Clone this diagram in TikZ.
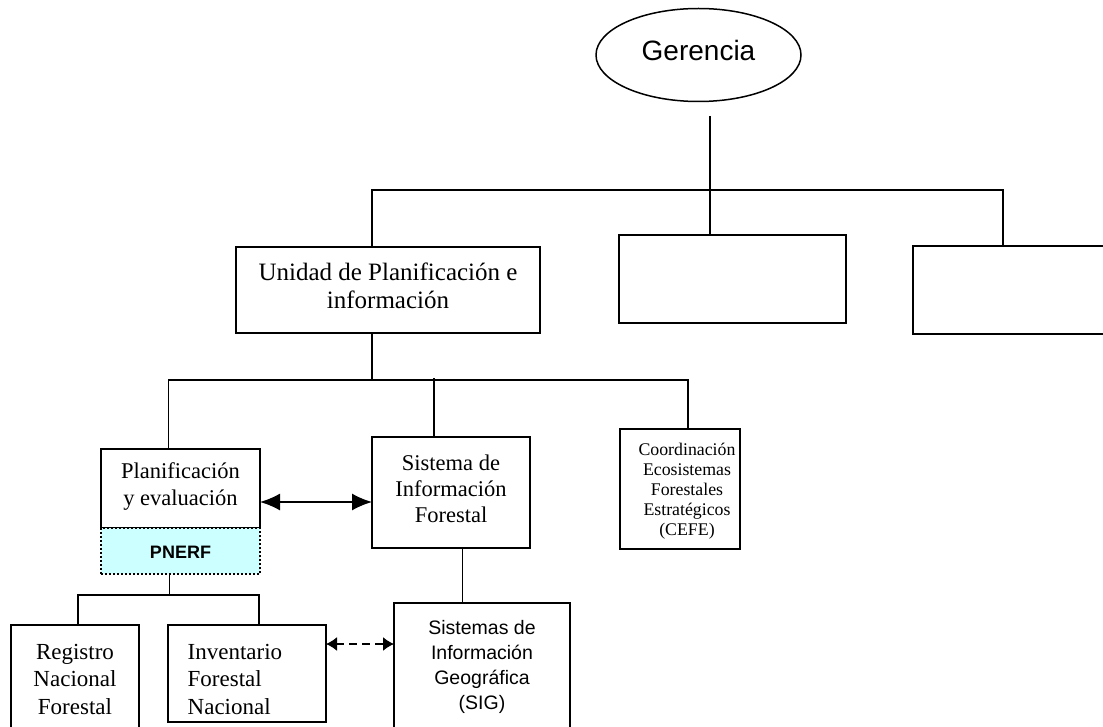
\documentclass[tikz,border=0pt]{standalone}
\usepackage{fontspec}
\setmainfont{Liberation Serif}
\newfontfamily\arial{Liberation Sans}
\usetikzlibrary{arrows.meta,shapes.geometric}
\begin{document}
\begin{tikzpicture}[x=1pt,y=-1pt,
  bx/.style={draw,line width=1.5pt,inner sep=0pt,outer sep=0pt},
  conn/.style={line width=1.5pt},
  txt/.style={align=center,inner sep=0pt},
  dbl/.style={line width=1.5pt,{Latex[length=20pt,width=17pt]}-{Latex[length=20pt,width=17pt]}},
  dsh/.style={line width=1.5pt,dash pattern=on 8pt off 5pt,{Latex[length=11pt,width=14pt]}-{Latex[length=11pt,width=14pt]}}]
\useasboundingbox (0,0) rectangle (1103,727);
\fill[white] (0,0) rectangle (1103,727);

% nodes
\node[draw,line width=1.5pt,ellipse,minimum width=205pt,minimum height=93pt,inner sep=0pt] (ger) at (698.5,55) {};
\node[txt,font=\arial\fontsize{28}{32}\selectfont] (gert) at (698.5,50) {Gerencia};

\node[bx,minimum width=304pt,minimum height=86pt] (uni) at (388,290) {};
\node[txt,font=\fontsize{25}{28}\selectfont] (unit) at (388,286) {Unidad de Planificación e\\información};
\node[bx,minimum width=227pt,minimum height=88pt] (mid) at (732.5,279) {};
\node[bx,minimum width=194pt,minimum height=88pt] (rgt) at (1010,290) {};

\node[bx,minimum width=159pt,minimum height=79pt] (plan) at (180.5,488.5) {};
\node[txt,font=\fontsize{22.5}{27}\selectfont] (plant) at (180.5,487) {Planificación\\y evaluación};
\node[draw,line width=2pt,dash pattern=on 2pt off 2pt,fill={rgb,255:red,204;green,255;blue,255},inner sep=0pt,minimum width=159pt,minimum height=46pt] (pnerf) at (180.5,551) {};
\node[txt,font=\arial\bfseries\fontsize{18}{20}\selectfont] (pnerft) at (180.5,552) {PNERF};

\node[bx,minimum width=158pt,minimum height=111pt] (sif) at (451,492.5) {};
\node[txt,font=\fontsize{22.5}{26}\selectfont] (sift) at (451,489) {Sistema de\\Información\\Forestal};

\node[bx,minimum width=120pt,minimum height=120pt] (cefe) at (680,489) {};
\node[txt,font=\fontsize{17.8}{20}\selectfont] (cefet) at (687,491) {Coordinación\\Ecosistemas\\Forestales\\Estratégicos\\(CEFE)};

\node[bx,minimum width=128pt,minimum height=112pt] (reg) at (75,681) {};
\node[txt,font=\fontsize{23}{27.5}\selectfont] (regt) at (75,679) {Registro\\Nacional\\Forestal};
\node[bx,minimum width=158pt,minimum height=97pt] (inv) at (247,673.5) {};
\node[txt,align=left,anchor=west,font=\fontsize{23}{27.5}\selectfont] (invt) at (187.5,679) {Inventario\\Forestal\\Nacional};

\node[bx,minimum width=176pt,minimum height=134pt] (sig) at (482,670) {};
\node[txt,font=\arial\fontsize{19.5}{25}\selectfont] (sigt) at (482,667) {Sistemas de\\Información\\Geográfica\\(SIG)};

% coordinates
\coordinate (g0) at (710,116);
\coordinate (b1) at (372,190);
\coordinate (b2) at (710,190);
\coordinate (b3) at (1003,190);
\coordinate (c1) at (372,380);
\coordinate (c0) at (168.6,380);
\coordinate (c2) at (434,378);
\coordinate (c3) at (688,380);
\coordinate (d0) at (169.6,595);
\coordinate (d1) at (78,595);
\coordinate (d2) at (259,595);

% connectors
\draw[conn] (g0) -- (b2);
\draw[conn] (b1|-uni.north) -- (b1) -- (b3) -- (b3|-rgt.north);
\draw[conn] (b2) -- (b2|-mid.north);
\draw[conn] (c1|-uni.south) -- (c1);
\draw[conn] (c0|-plan.north) -- (c0) -- (c3) -- (c3|-cefe.north);
\draw[conn] (c2) -- (c2|-sif.north);
\draw[dbl] (plan.east|-0,502) -- (sif.west|-0,502);
\draw[conn] (d0|-pnerf.south) -- (d0);
\draw[conn] (d1|-reg.north) -- (d1) -- (d2) -- (d2|-inv.north);
\draw[conn] (sif.south-|462.7,0) -- (sig.north-|462.7,0);
\draw[dsh] (inv.east|-0,644) -- (sig.west|-0,644);
\end{tikzpicture}
\end{document}
